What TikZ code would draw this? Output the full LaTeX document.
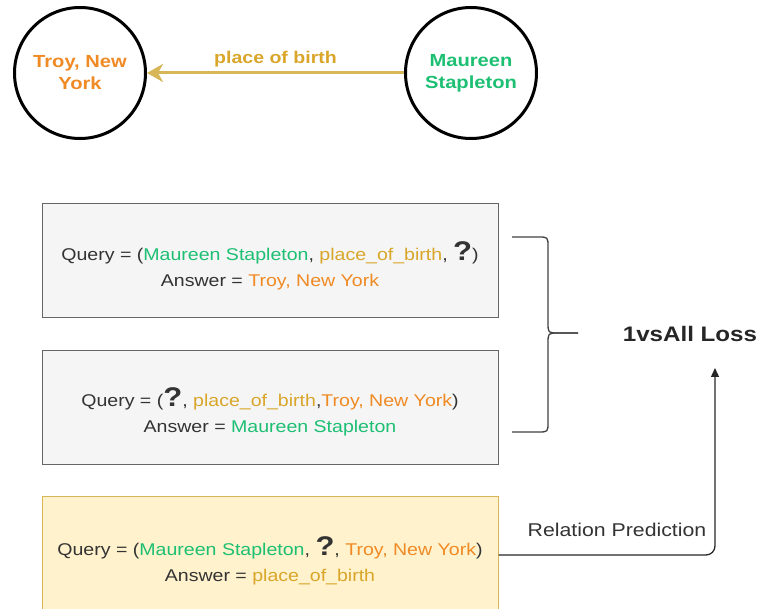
\documentclass[tikz,border=0pt]{standalone}
\usepackage{fontspec}
\setmainfont{Liberation Sans}
\newfontfamily\wide[FakeStretch=1.15]{Liberation Sans}
\usetikzlibrary{arrows.meta,calc}
\definecolor{txt}{HTML}{333333}
\definecolor{cgreen}{HTML}{1DBF73}
\definecolor{corange}{HTML}{F08A24}
\definecolor{cgold}{HTML}{D9A62B}
\definecolor{arrgold}{HTML}{D6B656}
\definecolor{boxfill}{HTML}{F5F5F5}
\definecolor{boxline}{HTML}{666666}
\definecolor{yfill}{HTML}{FFF2CC}
\definecolor{yline}{HTML}{D6B656}
\newcommand{\Q}{\smash{\fontsize{27}{27}\selectfont\bfseries ?}}
\newcommand{\G}[1]{\textcolor{cgreen}{#1}}
\newcommand{\Or}[1]{\textcolor{corange}{#1}}
\newcommand{\Au}[1]{\textcolor{cgold}{#1}}
\begin{document}
\begin{tikzpicture}[x=1pt,y=-1pt,
  ent/.style={circle,draw=black,line width=3pt,minimum size=131pt,inner sep=0pt,align=center,
    font=\wide\fontsize{17.5}{22}\selectfont\bfseries},
  qbox/.style={rectangle,draw=boxline,fill=boxfill,line width=1pt,minimum width=456pt,minimum height=114pt},
  ybox/.style={qbox,draw=yline,fill=yfill,minimum height=130pt},
  qtext/.style={align=center,text=txt,font=\wide\fontsize{17}{26}\selectfont},
  lbl/.style={text=txt,font=\wide\fontsize{18.5}{20}\selectfont}]
\useasboundingbox (0,0) rectangle (761,609);
\clip (0,0) rectangle (761,609);
\node[ent,text=corange] (troy) at (80,73) {Troy, New\\York};
\node[ent,text=cgreen] (maureen) at (471,73) {Maureen\\Stapleton};
\draw[-{Stealth[length=16pt,width=18pt,inset=5pt]},draw=arrgold,fill=arrgold,line width=3pt] (maureen) -- (troy)
  node[midway,above=1pt,text=cgold,font=\wide\fontsize{17}{20}\selectfont\bfseries] {place of birth};

\node[qbox] (box1) at (270,261) {};
\node[qtext] (t1) at ($(box1)+(0,8)$) {Query = (\G{Maureen Stapleton}, \Au{place\_of\_birth}, \Q)\\Answer = \Or{Troy, New York}};
\node[qbox] (box2) at (270,407.5) {};
\node[qtext] (t2) at ($(box2)+(0,8)$) {Query = (\Q, \Au{place\_of\_birth},\Or{Troy, New York})\\Answer = \G{Maureen Stapleton}};
\node[ybox] (box3) at (270,562) {};
\node[qtext] (t3) at ($(box3)+(0,2)$) {Query = (\G{Maureen Stapleton}, \Q, \Or{Troy, New York})\\Answer = \Au{place\_of\_birth}};

\node[font=\wide\fontsize{21}{24}\selectfont\bfseries,text=black!85] (loss) at (690,334) {1vsAll Loss};

\coordinate (btop) at (512,237);
\coordinate (bbot) at (512,432);
\coordinate (btip) at (578,333);
\draw[line width=1.3pt,draw=black!75] (btop) -- (538,237) .. controls (548,237) .. (548,247) -- (548,322)
  .. controls (548,333) .. (558,333) -- (btip);
\draw[line width=1.3pt,draw=black!75] (btip) -- (558,333) .. controls (548,333) .. (548,344) -- (548,422)
  .. controls (548,432) .. (538,432) -- (bbot);

\coordinate (rpstart) at ($(box3.east)+(0,-7)$);
\coordinate (lossin) at (715,368);
\draw[-{Triangle[length=9pt,width=8pt]},line width=1.3pt,draw=black!85,rounded corners=9pt]
  (rpstart) -| (lossin);
\node[lbl] (rp) at (617,530) {Relation Prediction};
\end{tikzpicture}
\end{document}
